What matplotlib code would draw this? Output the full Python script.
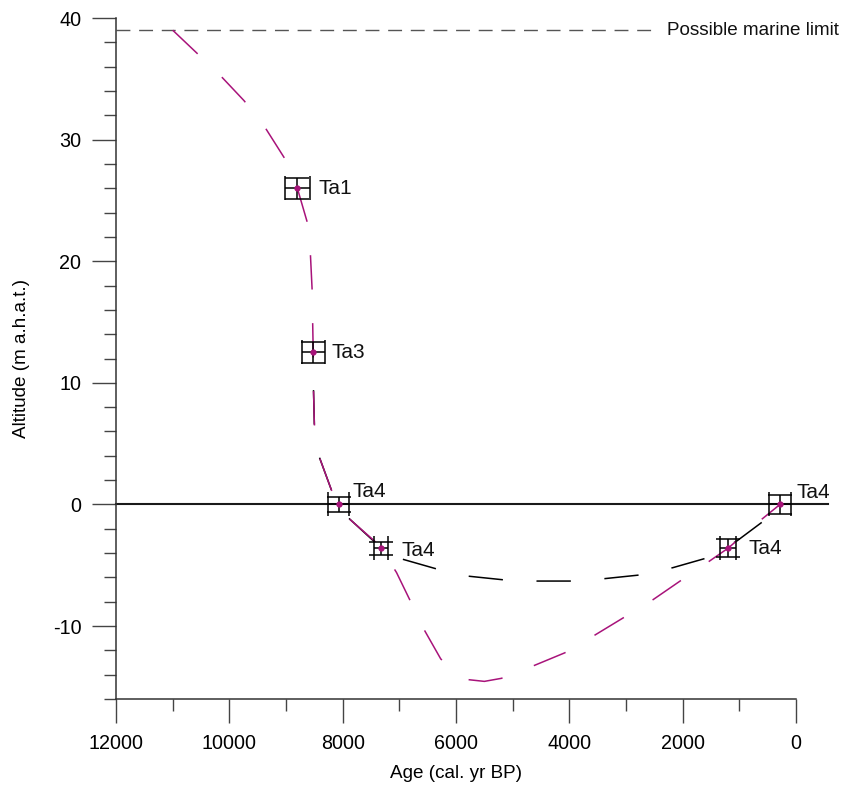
import matplotlib
matplotlib.use('Agg')
import matplotlib.pyplot as plt
from matplotlib.ticker import MultipleLocator

plt.rcParams['font.family'] = ['Liberation Sans', 'DejaVu Sans']
plt.rcParams['axes.unicode_minus'] = False

# sea-level curve (magenta)
curve_age = [11000, 10570, 10145, 9740, 9370, 9030, 8800, 8625, 8570, 8540,
             8530, 8520, 8515, 8500, 8413, 8200, 8070, 7880, 7440, 7320,
             7050, 6800, 6575, 6270, 6000, 5800, 5500, 5200, 4650, 4080,
             3570, 3040, 2545, 2015, 1540, 1200, 600, 283]
curve_alt = [39.0, 37.1, 35.2, 33.2, 31.0, 28.5, 26.0, 23.2, 20.6, 17.7,
             15.0, 12.5, 9.4, 6.6, 3.9, 1.2, 0.0, -1.2, -3.0, -3.6,
             -5.6, -8.0, -10.2, -12.7, -13.9, -14.4, -14.55, -14.3, -13.3, -12.2,
             -10.8, -9.3, -7.9, -6.2, -4.7, -3.6, -1.2, 0.0]

# alternative curve (black)
alt_age = [8515, 8500, 8413, 8200, 8070, 7900, 7480, 7320, 6946, 6345,
           5780, 5160, 4578, 3959, 3376, 2757, 2174, 1573, 1043, 583, 283]
alt_alt = [9.4, 6.6, 3.9, 1.2, 0.0, -1.1, -2.9, -3.5, -4.5, -5.3,
           -5.9, -6.2, -6.3, -6.3, -6.1, -5.8, -5.2, -4.4, -3.0, -1.4, 0.0]

# dated samples
pt_age = [8800, 8520, 8070, 7325, 1200, 283]
pt_alt = [26.0, 12.5, 0.0, -3.6, -3.6, 0.0]
pt_age_err = [215, 206, 190, 130, 141, 191]
pt_alt_err = [0.86, 0.87, 0.63, 0.55, 0.74, 0.8]
pt_name = ['Ta1', 'Ta3', 'Ta4', 'Ta4', 'Ta4', 'Ta4']
label_offsets = [(15, 0), (13.5, 0), (10, 9.5), (15, -1.5), (14.5, 0), (12, 8.5)]

marine_limit = 39
marine_text = 'Possible marine limit'

magenta = '#a8137a'

fig = plt.figure(figsize=(8.42, 7.87), dpi=100)
ax = fig.add_axes([0.1378, 0.1118, 0.8076, 0.8653])

ax.plot([12000, 2540], [marine_limit, marine_limit], color='#555555', lw=1.0,
        linestyle=(0, (10, 6.3)), zorder=1)
ax.text(2280, marine_limit, marine_text, fontsize=13.6, va='center', ha='left',
        color='#111111', clip_on=False)

ax.plot([12000, -566], [0, 0], color='#1a1a1a', lw=1.5, clip_on=False, zorder=2)

ax.plot(alt_age, alt_alt, color='black', lw=1.1, linestyle=(0, (22.5, 22)), zorder=3)
ax.plot(curve_age, curve_alt, color=magenta, lw=1.1, linestyle=(0, (22.5, 22)), zorder=4)

ax.errorbar(pt_age, pt_alt, xerr=pt_age_err, yerr=pt_alt_err, fmt='none',
            ecolor='black', elinewidth=1.1, capsize=8.6, capthick=1.1, zorder=5)
ax.plot(pt_age, pt_alt, 'o', color=magenta, ms=3.5, zorder=6)

for a, h, name, off in zip(pt_age, pt_alt, pt_name, label_offsets):
    ax.annotate(name, (a, h), xytext=off, textcoords='offset points',
                fontsize=15, va='center', ha='left', color='#111111')

ax.set_xlim(12000, 0)
ax.set_ylim(-16, 40)
ax.xaxis.set_major_locator(MultipleLocator(2000))
ax.xaxis.set_minor_locator(MultipleLocator(1000))
ax.yaxis.set_major_locator(MultipleLocator(10))
ax.yaxis.set_minor_locator(MultipleLocator(2))

for s in ['top', 'right']:
    ax.spines[s].set_visible(False)
for s in ['left', 'bottom']:
    ax.spines[s].set_color('#333333')
    ax.spines[s].set_linewidth(1.1)

ax.tick_params(which='major', direction='out', length=17, width=1.0,
               color='#444444', labelsize=14.2, pad=8)
ax.tick_params(which='minor', direction='out', length=8.5, width=1.0,
               color='#444444')

ax.set_xlabel('Age (cal. yr BP)', fontsize=13.6, labelpad=9)
ax.set_ylabel('Altitude (m a.h.a.t.)', fontsize=13.6, labelpad=16)

fig.savefig('out.png', dpi=100, facecolor='white')
